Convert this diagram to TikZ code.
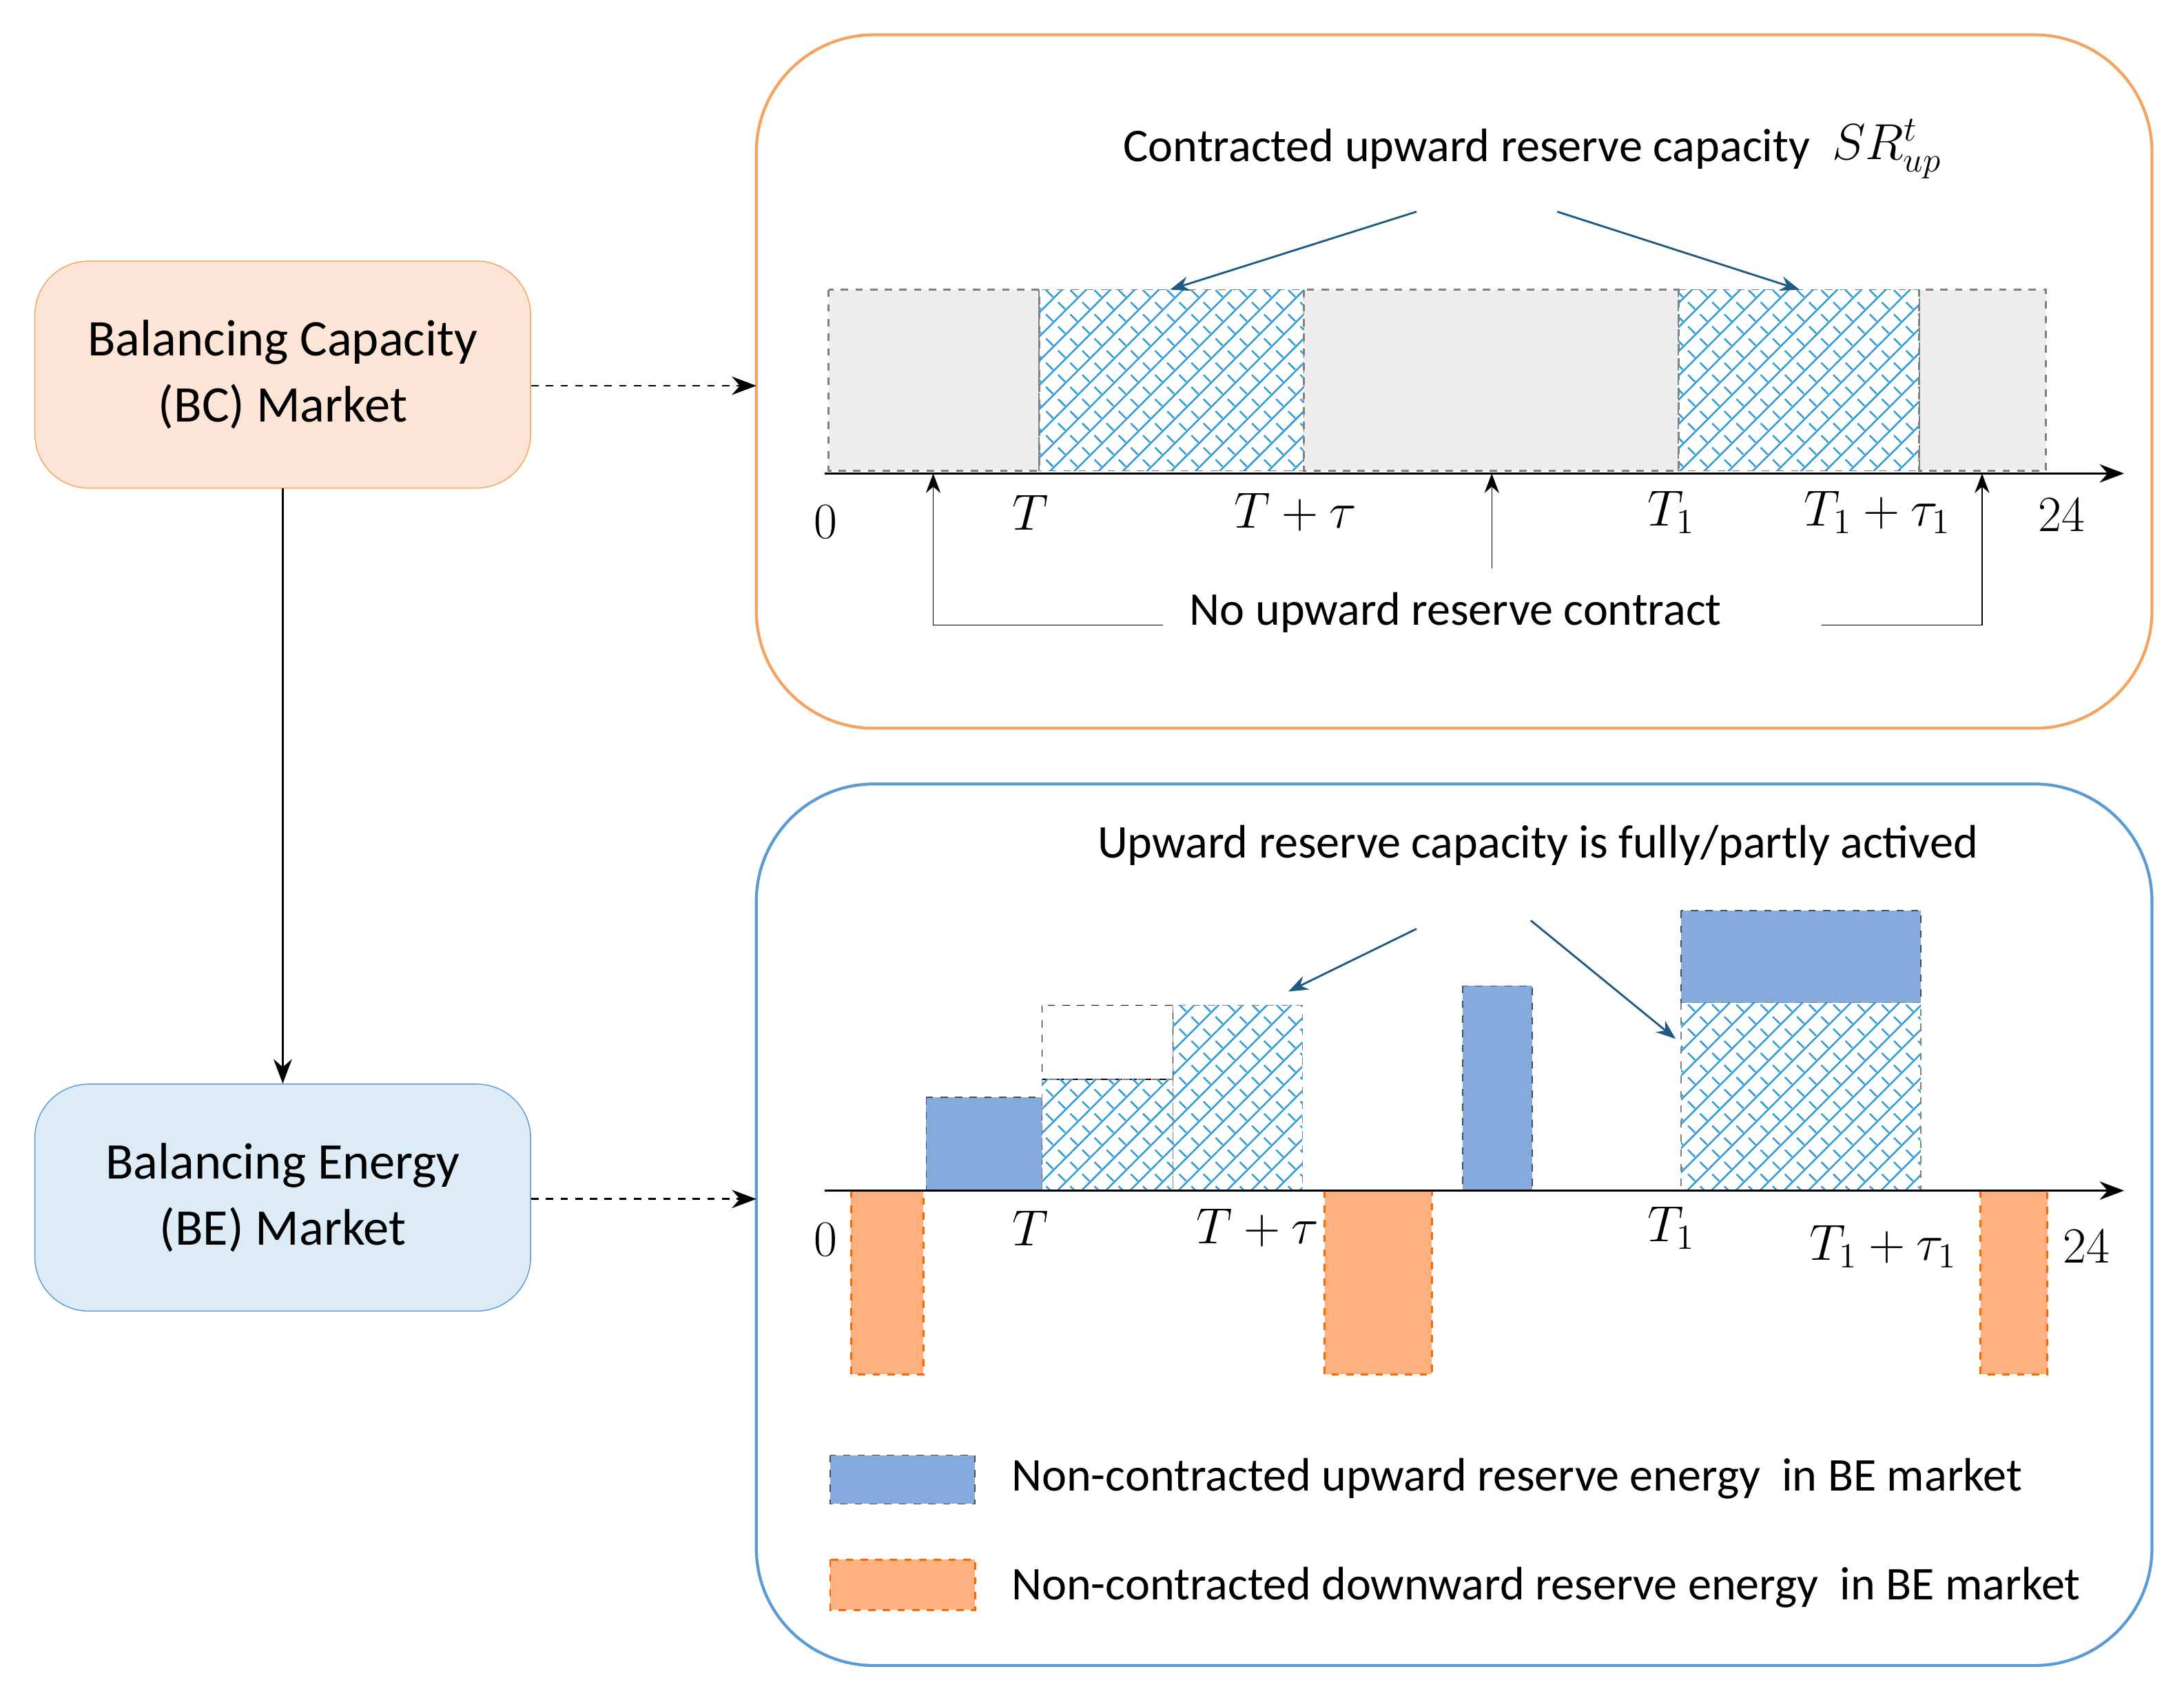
\documentclass[tikz,border=0pt]{standalone}
\usepackage{fontspec}
\setmainfont{Carlito}
\usetikzlibrary{arrows.meta, patterns.meta, positioning}
\definecolor{bcfill}{HTML}{FCE4D6}
\definecolor{bcline}{HTML}{F4A460}
\definecolor{befill}{HTML}{DDEBF7}
\definecolor{beline}{HTML}{5B9BD5}
\definecolor{upfill}{HTML}{84AADE}
\definecolor{downfill}{HTML}{FFB07F}
\definecolor{hatch}{HTML}{2E9BDB}
\definecolor{arrblue}{HTML}{1F5A85}
\tikzset{market/.style={draw, rounded corners=22pt, minimum width=7.12cm, minimum height=3.26cm,
    align=center, font=\fontsize{21}{27}\selectfont},
  panel/.style={draw, line width=1.2pt, rounded corners=48pt},
  gray box/.style={draw=gray, dashed, thick, fill=gray!13},
  hatched/.style={preaction={pattern={Lines[angle=45, distance=7pt, line width=0.7pt]}, pattern color=hatch},
    pattern={Lines[angle=-45, distance=7pt, line width=0.7pt]}, pattern color=hatch, draw=gray, dashed},
  up box/.style={draw=black!70, dashed, fill=upfill},
  down box/.style={draw=orange!80!red, dashed, thick, fill=downfill},
  lbl/.style={font=\fontsize{19.2}{23}\selectfont},
  mlbl/.style={font=\fontsize{21}{25}\selectfont},
  axis/.style={-{Stealth[length=10pt]}, thick},
  pointer/.style={-{Stealth[length=8pt]}, arrblue, thick}}
\begin{document}
\begin{tikzpicture}[x=0.02cm, y=-0.02cm]
  \useasboundingbox (0,0) rectangle (1568,1214);
  % markets
  \node[market, fill=bcfill, draw=bcline] (bc) at (203,269) {Balancing Capacity\\(BC) Market};
  \node[market, fill=befill, draw=beline] (be) at (203,860) {Balancing Energy\\(BE) Market};
  \draw[-{Stealth[length=10pt]}, thick] (bc) -- (be);
  \draw[panel, draw=bcline] (543,25) rectangle (1545,523);
  \draw[panel, draw=beline] (543,563) rectangle (1545,1196);
  \coordinate (bcin) at (543,277);
  \coordinate (bein) at (543,861);
  \draw[-{Stealth[length=10pt]}, dashed, thick] (bc.east |- bcin) -- (bcin);
  \draw[-{Stealth[length=10pt]}, dashed, thick] (be.east |- bein) -- (bein);
  %%%% capacity chart
  \foreach \a/\b in {595/746, 936/1205, 1378/1469}
    \draw[gray box] (\a,208) rectangle (\b,338);
  \foreach \a/\b in {746/936, 1205/1378}
    \draw[hatched] (\a,208) rectangle (\b,338);
  \draw[axis] (592,340) -- (1525,340);
  \node[mlbl] (z1) at (593,375) {$0$};
  \node[mlbl] (t1) at (740,368) {$T$};
  \node[mlbl] (tt1) at (930,368) {$T+\tau$};
  \node[mlbl] (s1) at (1200,368) {$T_1$};
  \node[mlbl] (ss1) at (1348,368) {$T_1+\tau_1$};
  \node[mlbl] (e1) at (1480,370) {$24$};
  \node[lbl] (ctitle) at (1053,107) {Contracted upward reserve capacity};
  \node[mlbl, right=2pt of ctitle] (srup) {$SR^{t}_{up}$};
  \coordinate (ca) at (1017,152); \coordinate (cb) at (1118,152);
  \coordinate (ha) at (840,208); \coordinate (hb) at (1292,208);
  \draw[pointer] (ca) -- (ha);
  \draw[pointer] (cb) -- (hb);
  \node[lbl] (nocon) at (1045,440) {No upward reserve contract};
  \coordinate (na) at (670,340); \coordinate (nb) at (1071,340); \coordinate (nc) at (1423,340);
  \draw[-{Stealth[length=8pt]}] (835,449) -| (na);
  \draw[-{Stealth[length=8pt]}] (1308,449) -| (nc);
  \draw[-{Stealth[length=8pt]}] (1071,408) -- (nb);
  %%%% energy chart
  \draw[up box] (665,788) rectangle (748,855);
  \draw[up box] (1050,708) rectangle (1100,855);
  \draw[up box] (1207,654) rectangle (1379,720);
  \draw[dashed, thin] (748,722) rectangle (842,775);
  \foreach \a/\b/\h in {748/842/775, 842/935/722, 1207/1379/720}
    \draw[hatched] (\a,\h) rectangle (\b,855);
  \foreach \a/\b in {611/663, 951/1028, 1422/1470}
    \draw[down box] (\a,855) rectangle (\b,987);
  \draw[axis] (592,855) -- (1525,855);
  \node[mlbl] (z2) at (593,890) {$0$};
  \node[mlbl] (t2) at (740,882) {$T$};
  \node[mlbl] (tt2) at (903,882) {$T+\tau$};
  \node[mlbl] (s2) at (1200,882) {$T_1$};
  \node[mlbl] (ss2) at (1352,895) {$T_1+\tau_1$};
  \node[mlbl] (e2) at (1498,895) {$24$};
  \node[lbl] (etitle) at (1104,607) {Upward reserve capacity is fully/partly actived};
  \coordinate (ea) at (1017,667); \coordinate (eb) at (1099,661);
  \coordinate (ga) at (925,712); \coordinate (gb) at (1203,746);
  \draw[pointer] (ea) -- (ga);
  \draw[pointer] (eb) -- (gb);
  % legend
  \draw[up box] (596,1045) rectangle (700,1080);
  \node[lbl, anchor=west] (lup) at (720,1062) {Non-contracted upward reserve energy~ in BE market};
  \draw[down box] (596,1120) rectangle (700,1156);
  \node[lbl, anchor=west] (ldown) at (720,1140) {Non-contracted downward reserve energy~ in BE market};
\end{tikzpicture}
\end{document}
